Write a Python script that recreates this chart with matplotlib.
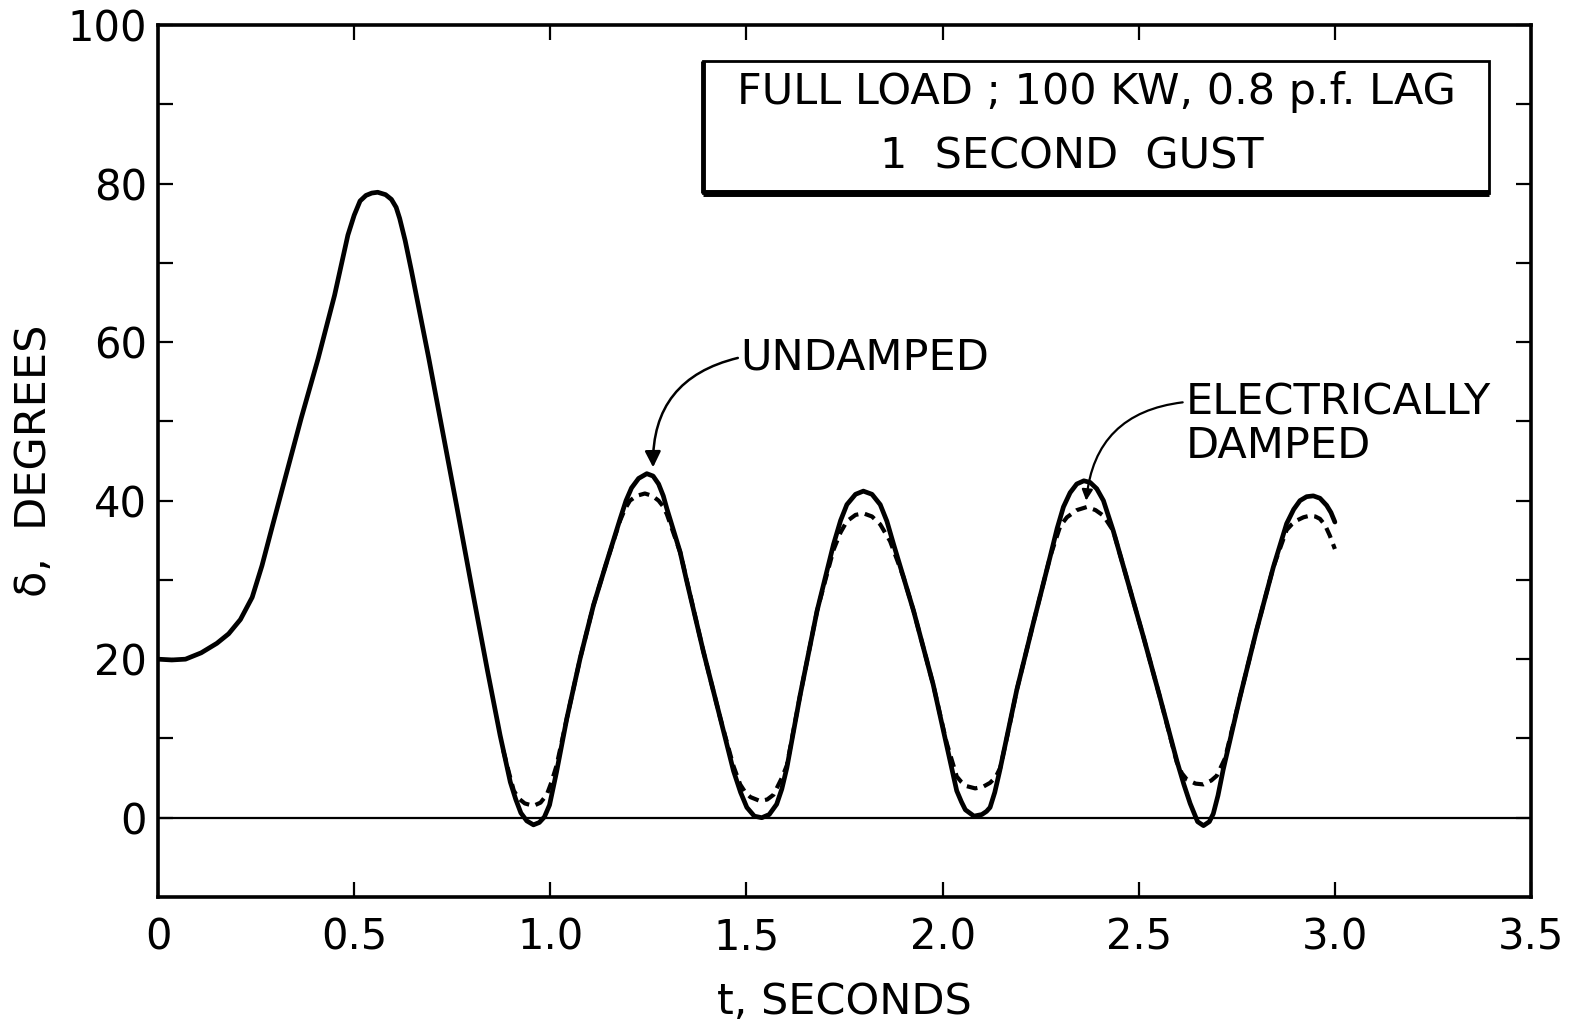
import numpy as np
import matplotlib.pyplot as plt
from matplotlib.patches import Rectangle

# load angle, undamped machine
t_undamped = [0.0, 0.035, 0.07, 0.11, 0.15, 0.18, 0.21, 0.24, 0.265, 0.29,
              0.325, 0.365, 0.408, 0.45, 0.484, 0.50, 0.515, 0.53, 0.545, 0.56,
              0.58, 0.595, 0.607, 0.616, 0.63, 0.646, 0.69, 0.732, 0.761, 0.80,
              0.84, 0.872, 0.898, 0.912, 0.925, 0.94, 0.957, 0.972, 0.985, 0.998,
              1.016, 1.042, 1.076, 1.11, 1.144, 1.178, 1.193, 1.207, 1.225, 1.246,
              1.262, 1.276, 1.288, 1.297, 1.331, 1.347, 1.39, 1.433, 1.467, 1.485,
              1.501, 1.52, 1.539, 1.558, 1.577, 1.59, 1.603, 1.637, 1.68, 1.722,
              1.74, 1.756, 1.778, 1.798, 1.82, 1.841, 1.858, 1.875, 1.926, 1.976,
              2.01, 2.036, 2.048, 2.058, 2.08, 2.10, 2.112, 2.121, 2.133, 2.146,
              2.189, 2.231, 2.274, 2.292, 2.308, 2.325, 2.342, 2.36, 2.376, 2.393,
              2.41, 2.435, 2.469, 2.512, 2.554, 2.597, 2.615, 2.631, 2.65, 2.665,
              2.68, 2.69, 2.702, 2.715, 2.758, 2.8, 2.843, 2.877, 2.895, 2.911,
              2.928, 2.945, 2.962, 2.979, 2.99, 3.0]
d_undamped = [20.0, 19.9, 20.0, 20.8, 22.0, 23.2, 25.0, 27.8, 31.8, 36.5,
              43.0, 50.4, 57.9, 65.9, 73.5, 76.0, 77.8, 78.5, 78.8, 78.9,
              78.6, 78.0, 77.0, 75.6, 72.8, 69.0, 58.0, 47.0, 39.4, 29.0,
              18.5, 10.4, 4.5, 2.3, 0.6, -0.4, -0.9, -0.6, 0.1, 1.6,
              5.8, 12.5, 20.1, 26.8, 32.3, 37.7, 40.0, 41.6, 42.8, 43.4,
              43.1, 42.1, 40.6, 39.0, 33.5, 30.0, 21.0, 12.6, 5.9, 3.2,
              1.3, 0.2, 0.0, 0.4, 1.7, 3.6, 6.3, 15.5, 26.1, 34.5,
              37.5, 39.5, 40.8, 41.2, 40.8, 39.5, 37.4, 34.5, 26.1, 16.8,
              9.2, 3.4, 2.0, 1.0, 0.2, 0.4, 0.8, 1.3, 3.2, 6.0,
              16.1, 24.5, 32.9, 36.5, 39.2, 41.0, 42.1, 42.5, 42.3, 41.5,
              40.0, 36.2, 30.3, 22.8, 15.2, 7.2, 4.2, 1.8, -0.5, -1.0,
              -0.5, 0.5, 2.8, 6.0, 15.2, 23.6, 31.6, 37.1, 38.9, 40.0,
              40.5, 40.6, 40.3, 39.4, 38.5, 37.3]

# load angle with electrical damping (same curve before the first swing back)
t_damped = [0.88, 0.895, 0.907, 0.92, 0.935, 0.957, 0.975, 0.991, 1.003, 1.016,
            1.042, 1.076, 1.11, 1.144, 1.178, 1.19, 1.203, 1.22, 1.241, 1.26,
            1.276, 1.287, 1.297, 1.331, 1.39, 1.433, 1.467, 1.484, 1.497, 1.51,
            1.535, 1.553, 1.569, 1.58, 1.59, 1.603, 1.637, 1.68, 1.722, 1.74,
            1.756, 1.778, 1.798, 1.82, 1.841, 1.866, 1.9, 1.926, 1.976, 2.01,
            2.036, 2.048, 2.06, 2.083, 2.103, 2.121, 2.135, 2.147, 2.17, 2.189,
            2.231, 2.274, 2.3, 2.317, 2.342, 2.368, 2.39, 2.41, 2.435, 2.469,
            2.512, 2.554, 2.597, 2.61, 2.623, 2.645, 2.665, 2.685, 2.699, 2.72,
            2.758, 2.8, 2.843, 2.877, 2.89, 2.903, 2.92, 2.936, 2.95, 2.962,
            2.975, 2.987, 3.0]
d_damped = [8.5, 5.6, 3.4, 2.4, 1.8, 1.5, 1.9, 2.9, 4.5, 6.6,
            12.5, 20.1, 26.8, 32.3, 37.5, 38.9, 40.0, 40.6, 40.9, 40.6,
            40.0, 39.3, 38.3, 33.5, 21.0, 12.6, 6.5, 4.2, 3.2, 2.6,
            2.1, 2.3, 2.9, 4.0, 5.0, 6.6, 15.5, 26.1, 33.8, 36.0,
            37.4, 38.2, 38.4, 38.0, 37.0, 34.9, 30.4, 26.1, 16.8, 9.5,
            5.2, 4.5, 4.0, 3.7, 3.9, 4.4, 5.1, 6.3, 11.5, 16.1,
            24.5, 32.9, 36.8, 37.9, 38.8, 39.2, 38.8, 38.1, 36.2, 30.3,
            22.8, 15.2, 7.0, 5.6, 4.8, 4.3, 4.2, 4.7, 5.3, 7.5,
            15.2, 23.6, 31.6, 36.3, 37.0, 37.5, 37.9, 38.1, 38.0, 37.7,
            36.9, 35.6, 33.9]

x_ticks = [0, 0.5, 1.0, 1.5, 2.0, 2.5, 3.0, 3.5]
x_labels = ['0', '0.5', '1.0', '1.5', '2.0', '2.5', '3.0', '3.5']
y_ticks = [0, 20, 40, 60, 80, 100]
y_labels = ['0', '20', '40', '60', '80', '100']
y_minor = [10, 30, 50, 70, 90]

plt.rcParams['font.family'] = 'DejaVu Sans'

fig = plt.figure(figsize=(15.74, 10.29), dpi=100)
ax = fig.add_axes([0.1004, 0.1283, 0.8723, 0.8474])

ax.plot(t_undamped, d_undamped, color='black', lw=3.4,
        solid_capstyle='round', solid_joinstyle='round')
ax.plot(t_damped, d_damped, color='black', lw=3.0,
        linestyle=(0, (2.6, 1.6)), dash_capstyle='butt')
ax.axhline(0, color='black', lw=1.6)

ax.set_xlim(0, 3.5)
ax.set_ylim(-10, 100)
ax.set_xticks(x_ticks)
ax.set_xticklabels(x_labels)
ax.set_yticks(y_ticks)
ax.set_yticklabels(y_labels)
ax.set_yticks(y_minor, minor=True)
ax.tick_params(axis='both', which='both', direction='in', length=11, width=1.6,
               top=True, right=True, labelsize=30)
ax.tick_params(axis='x', pad=14)
ax.tick_params(axis='y', pad=8)
for sp in ax.spines.values():
    sp.set_linewidth(2.6)

ax.set_xlabel('t, SECONDS', fontsize=31, va='center')
ax.xaxis.set_label_coords(0.5, -0.12)
ax.set_ylabel('δ,  DEGREES', fontsize=31, va='center')
ax.yaxis.set_label_coords(-0.09, 0.5)

# caption box
bx0, bx1, by0, by1 = 1.389, 3.393, 78.8, 95.5
ax.add_patch(Rectangle((bx0, by0), bx1 - bx0, by1 - by0, fill=False,
                       edgecolor='black', lw=2.0))
ax.plot([bx0, bx1], [by0, by0], color='black', lw=5, solid_capstyle='butt')
ax.plot([bx0, bx0], [by0, by1], color='black', lw=3.5, solid_capstyle='butt')
ax.text(2.391, 91.5, 'FULL LOAD ; 100 KW, 0.8 p.f. LAG', fontsize=31,
        ha='center', va='center')
ax.text(2.330, 83.4, '1  SECOND  GUST', fontsize=31, ha='center', va='center')

# curve labels
ax.text(1.484, 58.1, 'UNDAMPED', fontsize=31, ha='left', va='center')
ax.annotate('', xy=(1.262, 44.2), xytext=(1.478, 58.0),
            arrowprops=dict(arrowstyle='-|>', color='black', lw=1.8,
                            connectionstyle='arc3,rad=0.4',
                            shrinkA=0, shrinkB=0, mutation_scale=24))
ax.text(2.62, 49.6, 'ELECTRICALLY\nDAMPED', fontsize=31, ha='left',
        va='center', linespacing=1.05)
ax.annotate('', xy=(2.366, 40.0), xytext=(2.612, 52.4),
            arrowprops=dict(arrowstyle='-|>', color='black', lw=1.6,
                            connectionstyle='arc3,rad=0.4',
                            shrinkA=0, shrinkB=0, mutation_scale=16))

fig.savefig('out.png', dpi=100)
